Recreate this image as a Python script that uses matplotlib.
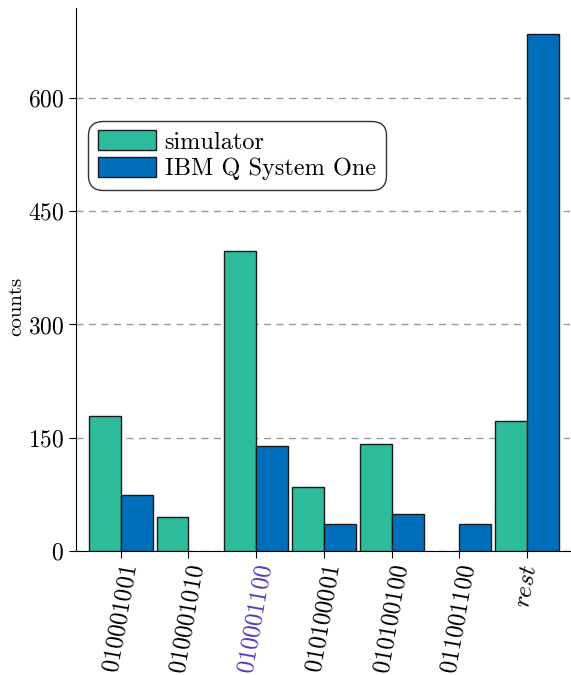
import numpy as np
import matplotlib
matplotlib.use("Agg")
import matplotlib.pyplot as plt

plt.rcParams['font.family'] = 'serif'
plt.rcParams['font.serif'] = ['cmr10']
plt.rcParams['mathtext.fontset'] = 'cm'
plt.rcParams['axes.formatter.use_mathtext'] = True

states = ["010001001", "010001010", "010001100", "010100001",
          "010100100", "011001100", "rest"]
simulator = [179, 45, 397, 85, 142, 0, 172]
ibm_q = [74, 0, 139, 36, 49, 36, 685]
highlight = "010001100"

SIM_COLOR = "#2dbc9b"
IBM_COLOR = "#006ebb"
HL_COLOR = "#4a3fb0"

fig = plt.figure(figsize=(5.71, 6.75), dpi=100)
ax = fig.add_axes([0.133, 0.1837, 0.865, 0.8043])

x = np.arange(len(states))
w = 0.47
bars_sim = ax.bar(x - w / 2, simulator, w, color=SIM_COLOR, edgecolor="#1a1a1a",
                  linewidth=1.0, label="simulator", zorder=3)
bars_ibm = ax.bar(x + w / 2, ibm_q, w, color=IBM_COLOR, edgecolor="#1a1a1a",
                  linewidth=1.0, label="IBM Q System One", zorder=3)
# empty counts leave no mark at all
for b in list(bars_sim) + list(bars_ibm):
    if b.get_height() == 0:
        b.set_visible(False)

ax.set_xlim(-0.66, 6.63)
ax.set_ylim(0, 719)
ax.set_yticks([0, 150, 300, 450, 600])
ax.tick_params(axis='y', labelsize=17, length=5)
ax.yaxis.grid(True, linestyle=(0, (5, 4)), color="#999999", linewidth=1.0, zorder=0)
ax.set_axisbelow(True)

ax.set_xticks(x)
ax.set_xticklabels([r"$\mathit{%s}$" % s for s in states], rotation=80,
                   fontsize=17.5, ha='center', va='top')
for lbl, s in zip(ax.get_xticklabels(), states):
    if s == highlight:
        lbl.set_color(HL_COLOR)
ax.tick_params(axis='x', length=5)

ax.spines['top'].set_visible(False)
ax.spines['right'].set_visible(False)
ax.set_ylabel("counts", fontsize=15)
ax.yaxis.set_label_coords(-0.103, 0.45)

leg = ax.legend(loc='upper left', bbox_to_anchor=(0.0, 0.815), fontsize=17.5,
                frameon=True, fancybox=True, edgecolor="#333333",
                handlelength=2.4, handleheight=0.85, borderpad=0.4,
                labelspacing=0.15, handletextpad=0.35)
leg.get_frame().set_linewidth(1.0)
leg.get_frame().set_alpha(1)
leg.get_frame().set_boxstyle("round", pad=0, rounding_size=0.6)

fig.savefig("out.png", dpi=100)
